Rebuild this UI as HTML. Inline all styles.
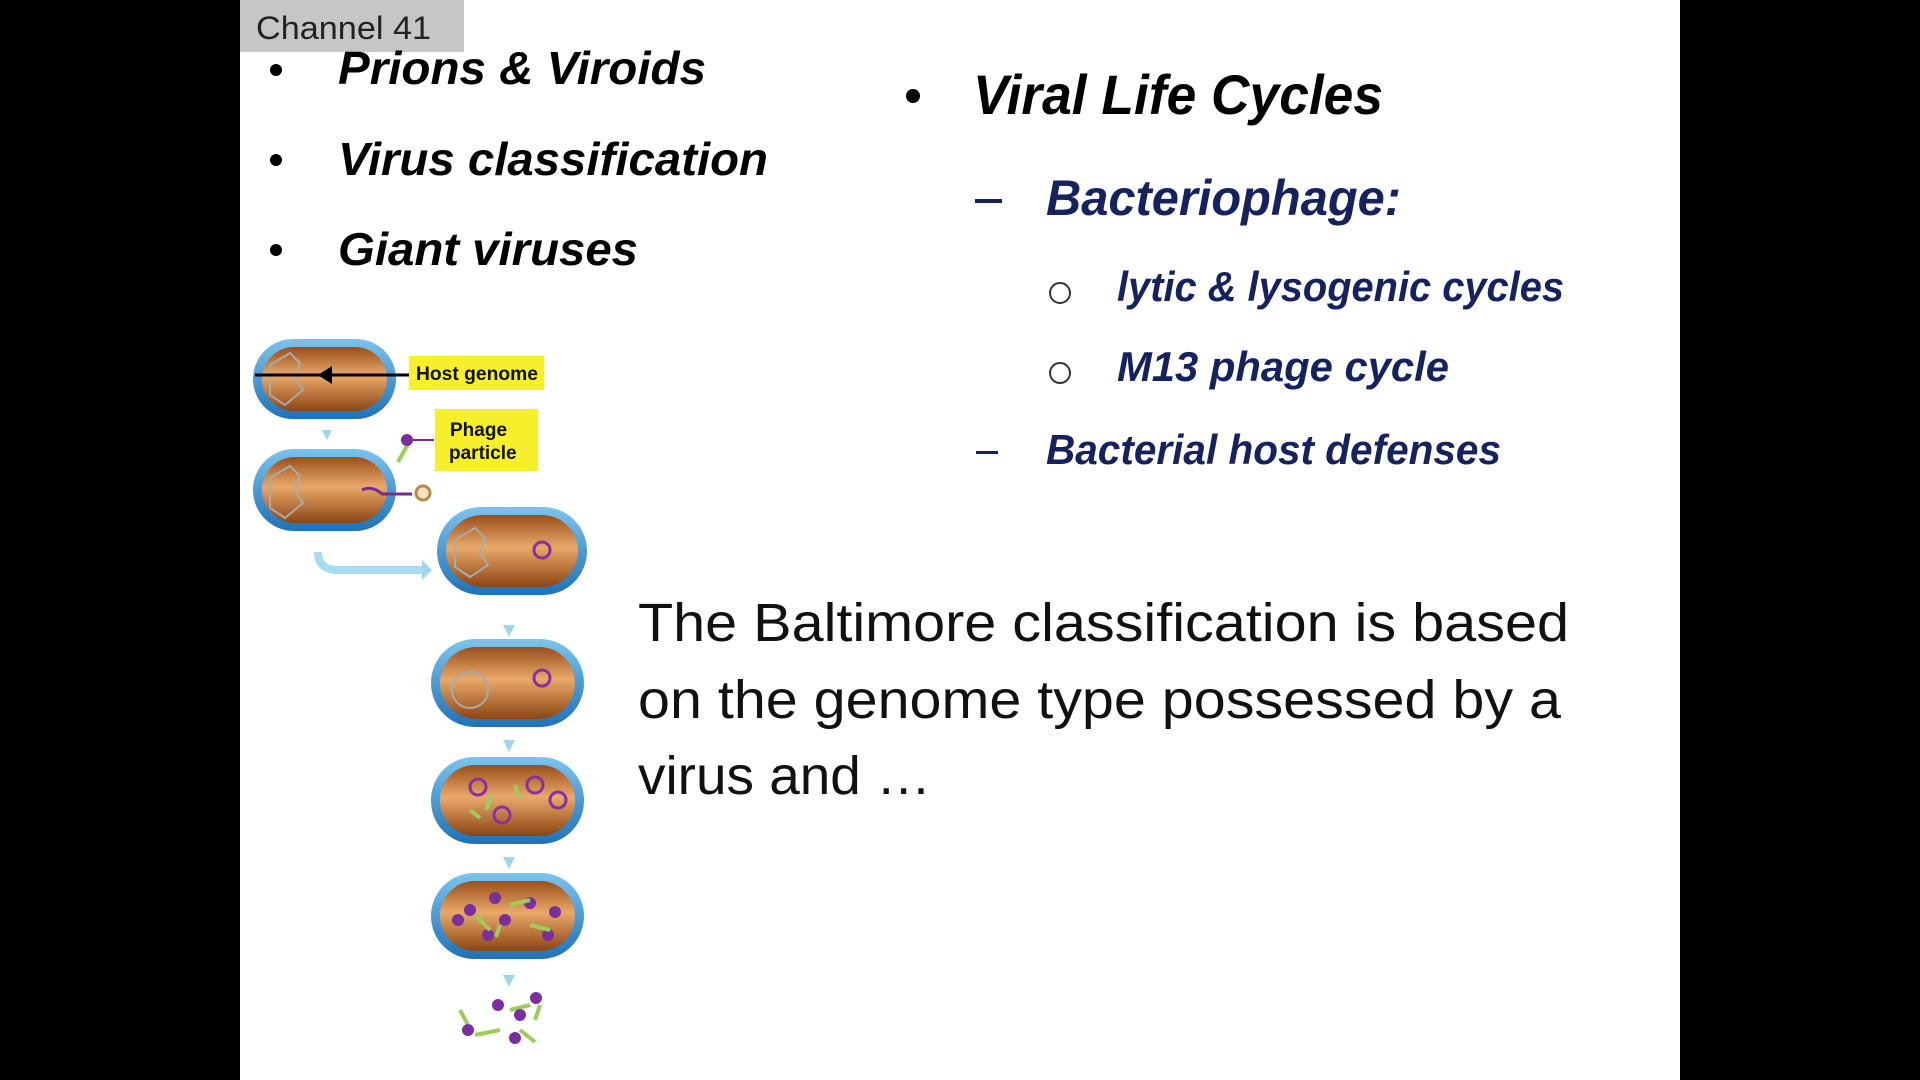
<!DOCTYPE html>
<html><head><meta charset="utf-8"><style>
html,body{margin:0;padding:0;background:#000;width:1920px;height:1080px;overflow:hidden}
svg{display:block}
text{font-family:"Liberation Sans",sans-serif}
.b{font-weight:bold;font-style:italic}
.n{fill:#15225e}
</style></head><body>
<svg width="1920" height="1080" viewBox="0 0 1920 1080">
<defs>
<linearGradient id="brown" x1="0" y1="0" x2="0" y2="1">
<stop offset="0" stop-color="#9a4e1a"/><stop offset="0.45" stop-color="#e9a96a"/><stop offset="1" stop-color="#8c4512"/></linearGradient>
<linearGradient id="blue" x1="0" y1="0" x2="0" y2="1">
<stop offset="0" stop-color="#7cc4ee"/><stop offset="1" stop-color="#1f72b8"/></linearGradient>
</defs>
<rect x="240" y="0" width="1440" height="1080" fill="#fff"/>
<rect x="240" y="0" width="224" height="52" fill="#c6c6c6"/>
<text x="256" y="39" font-size="32" fill="#222" textLength="175" lengthAdjust="spacingAndGlyphs">Channel 41</text>

<g>
<circle cx="276" cy="70" r="6" fill="#000"/>
<text x="338" y="84" font-size="46" class="b" textLength="368" lengthAdjust="spacingAndGlyphs">Prions &amp; Viroids</text>
<circle cx="276" cy="160" r="6" fill="#000"/>
<text x="338" y="175" font-size="46" class="b" textLength="430" lengthAdjust="spacingAndGlyphs">Virus classification</text>
<circle cx="276" cy="250" r="6" fill="#000"/>
<text x="338" y="265" font-size="46" class="b" textLength="300" lengthAdjust="spacingAndGlyphs">Giant viruses</text>
</g>

<g>
<circle cx="913" cy="96" r="7" fill="#000"/>
<text x="973" y="114" font-size="56" class="b" textLength="410" lengthAdjust="spacingAndGlyphs">Viral Life Cycles</text>
<rect x="975" y="199" width="27" height="4" class="n" fill="#15225e"/>
<text x="1046" y="215" font-size="50" class="b n" textLength="355" lengthAdjust="spacingAndGlyphs">Bacteriophage:</text>
<circle cx="1060" cy="293" r="10" fill="none" stroke="#333" stroke-width="2"/>
<text x="1117" y="301" font-size="42" class="b n" textLength="447" lengthAdjust="spacingAndGlyphs">lytic &amp; lysogenic cycles</text>
<circle cx="1060" cy="373" r="10" fill="none" stroke="#333" stroke-width="2"/>
<text x="1117" y="381" font-size="42" class="b n" textLength="332" lengthAdjust="spacingAndGlyphs">M13 phage cycle</text>
<rect x="976" y="451" width="22" height="3" fill="#15225e"/>
<text x="1046" y="464" font-size="42" class="b n" textLength="455" lengthAdjust="spacingAndGlyphs">Bacterial host defenses</text>
</g>

<g font-size="54" fill="#111">
<text x="638" y="641" textLength="931" lengthAdjust="spacingAndGlyphs">The Baltimore classification is based</text>
<text x="638" y="718" textLength="923" lengthAdjust="spacingAndGlyphs">on the genome type possessed by a</text>
<text x="638" y="794" textLength="293" lengthAdjust="spacingAndGlyphs">virus and …</text>
</g>

<g>
<g fill="#9fd6ee">
<polygon points="322,430 332,430 327,440"/>
<path d="M318,552 q0,18 20,18 h85" stroke="#a8dcef" stroke-width="8" fill="none"/>
<polygon points="422,560 432,570 422,580"/>
<polygon points="503,625 515,625 509,637"/>
<polygon points="503,740 515,740 509,752"/>
<polygon points="503,857 515,857 509,869"/>
<polygon points="503,975 515,975 509,987"/>
</g>
<g><rect x="253" y="339" width="143" height="80" rx="40" fill="url(#blue)"/><rect x="262" y="347" width="125" height="64" rx="32" fill="url(#brown)"/><path d="M270,365 l20,-12 l10,10 l-5,15 l8,12 l-18,15 l-15,-10 z" fill="none" stroke="#aaa" stroke-width="2"/></g>
<g><rect x="253" y="449" width="143" height="82" rx="41" fill="url(#blue)"/><rect x="262" y="457" width="125" height="66" rx="33" fill="url(#brown)"/><path d="M270,478 l20,-12 l10,10 l-5,15 l8,12 l-18,15 l-15,-10 z" fill="none" stroke="#aaa" stroke-width="2"/><path d="M362,490 q10,-5 20,4 l30,0" stroke="#7a2a8e" stroke-width="3" fill="none"/><circle cx="423" cy="493" r="7" fill="#f5e2c0" stroke="#b88a4a" stroke-width="3"/></g>
<g><rect x="437" y="507" width="150" height="88" rx="44" fill="url(#blue)"/><rect x="446" y="515" width="132" height="72" rx="36" fill="url(#brown)"/><circle cx="542" cy="550" r="8" fill="none" stroke="#8a2fa0" stroke-width="3"/><path d="M455,540 l20,-12 l10,10 l-5,15 l8,12 l-18,12 l-15,-10 z" fill="none" stroke="#aaa" stroke-width="2"/></g>
<g><rect x="431" y="639" width="153" height="88" rx="44" fill="url(#blue)"/><rect x="440" y="647" width="135" height="72" rx="36" fill="url(#brown)"/><circle cx="542" cy="678" r="8" fill="none" stroke="#8a2fa0" stroke-width="3"/><circle cx="470" cy="690" r="18" fill="none" stroke="#aaa" stroke-width="2"/></g>
<g><rect x="431" y="757" width="153" height="87" rx="43" fill="url(#blue)"/><rect x="440" y="765" width="135" height="71" rx="35" fill="url(#brown)"/><circle cx="478" cy="787" r="8" fill="none" stroke="#8a2fa0" stroke-width="3"/><circle cx="535" cy="785" r="8" fill="none" stroke="#8a2fa0" stroke-width="3"/><circle cx="558" cy="800" r="8" fill="none" stroke="#8a2fa0" stroke-width="3"/><circle cx="502" cy="815" r="8" fill="none" stroke="#8a2fa0" stroke-width="3"/><path d="M492,795 l-6,15 M515,785 l4,12 M470,810 l10,8" stroke="#9ccc5a" stroke-width="4"/></g>
<g><rect x="431" y="873" width="153" height="86" rx="43" fill="url(#blue)"/><rect x="440" y="881" width="135" height="70" rx="35" fill="url(#brown)"/><g fill="#7b2f9a"><circle cx="470" cy="910" r="6"/><circle cx="495" cy="898" r="6"/><circle cx="505" cy="920" r="6"/><circle cx="458" cy="920" r="6"/><circle cx="530" cy="903" r="6"/><circle cx="555" cy="912" r="6"/><circle cx="548" cy="935" r="6"/><circle cx="488" cy="935" r="6"/></g><path d="M475,915 l15,15 M510,905 l20,-5 M530,925 l20,5 M500,925 l-4,12" stroke="#9ccc5a" stroke-width="4"/></g>
<g><path d="M460,1010 l8,15 M475,1035 l25,-5 M510,1010 l20,-5 M520,1030 l15,12 M535,1020 l5,-15" stroke="#9ccc5a" stroke-width="4"/><g fill="#7b2f9a"><circle cx="468" cy="1030" r="6"/><circle cx="498" cy="1005" r="6"/><circle cx="520" cy="1015" r="6"/><circle cx="536" cy="998" r="6"/><circle cx="515" cy="1038" r="6"/></g></g>
<line x1="255" y1="375" x2="409" y2="375" stroke="#000" stroke-width="3"/>
<polygon points="318,375 332,366 332,384" fill="#000"/>
<rect x="409" y="356" width="135" height="34" fill="#f6ef2c"/>
<text x="416" y="380" font-size="19" font-weight="bold" fill="#111" textLength="122" lengthAdjust="spacingAndGlyphs">Host genome</text>
<line x1="410" y1="440" x2="434" y2="440" stroke="#7a2a8e" stroke-width="2"/>
<line x1="398" y1="462" x2="408" y2="444" stroke="#9ccc5a" stroke-width="4"/>
<circle cx="407" cy="440" r="6" fill="#7b2f9a"/>
<rect x="435" y="409" width="103" height="62" fill="#f6ef2c"/>
<text x="450" y="436" font-size="19" font-weight="bold" fill="#111">Phage</text>
<text x="449" y="459" font-size="19" font-weight="bold" fill="#111">particle</text>
</g>
</svg>
</body></html>
